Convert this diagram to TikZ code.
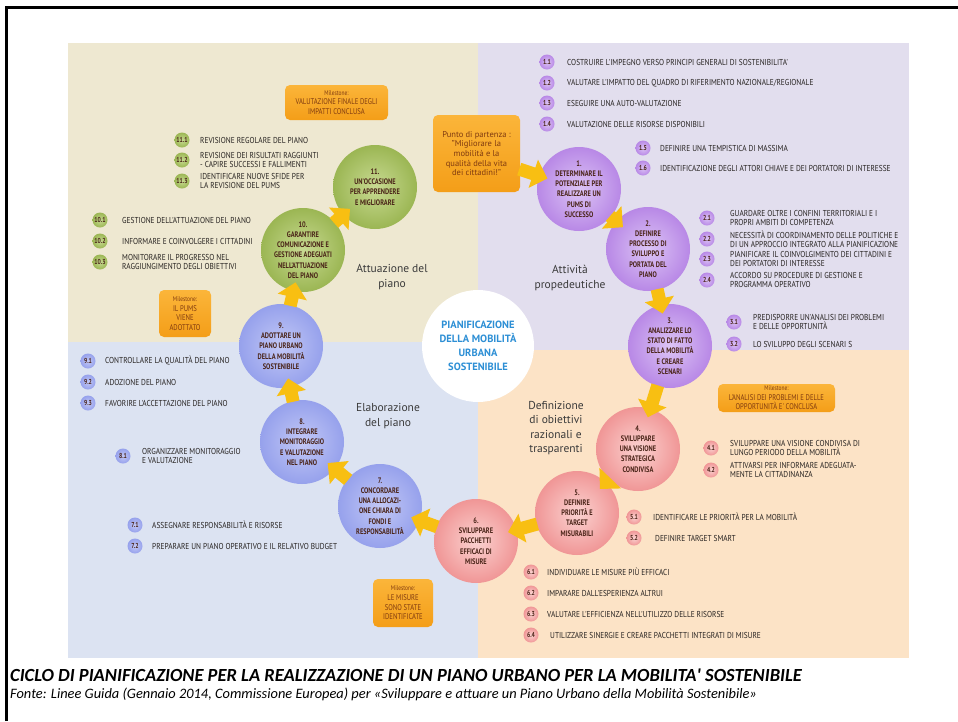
\documentclass[tikz,border=0pt]{standalone}
\usepackage{fontspec}
\setmainfont{PT Sans}
\newfontfamily\condfont[FakeStretch=0.8]{PT Sans}
\newfontfamily\lblfont[FakeStretch=0.855]{PT Sans}
\newfontfamily\captfont{Carlito}
\newcommand\mstitlefont{\condfont\fontsize{6.8}{8}\selectfont}
\usetikzlibrary{arrows.meta}

% quadrant backgrounds
\definecolor{bgbeige}{HTML}{EEE8D1}
\definecolor{bglav}{HTML}{E2DEEE}
\definecolor{bgblue}{HTML}{DCE3F2}
\definecolor{bgpeach}{HTML}{FCE3C6}
% step circles
\definecolor{purpleIn}{HTML}{DCC4F5}
\definecolor{purpleOut}{HTML}{B888E6}
\definecolor{pinkIn}{HTML}{FBD2D0}
\definecolor{pinkOut}{HTML}{F09696}
\definecolor{blueIn}{HTML}{C2C8F6}
\definecolor{blueOut}{HTML}{96A1EC}
\definecolor{greenIn}{HTML}{C8DA92}
\definecolor{greenOut}{HTML}{9BB653}
\definecolor{steptext}{HTML}{4A2418}
% arrows, milestones, texts
\definecolor{arrowyel}{HTML}{F8BF12}
\definecolor{mileTop}{HTML}{FBB53A}
\definecolor{mileBot}{HTML}{F49E18}
\definecolor{miletext}{HTML}{7F3A10}
\definecolor{lbltext}{HTML}{262220}
\definecolor{phasetext}{HTML}{3A3A3A}
\definecolor{centreblue}{HTML}{2D8FD5}

\begin{document}
\begin{tikzpicture}[x=1pt,y=-1pt,
  stepnode/.style={circle, inner sep=0pt, minimum size=84pt, align=center, text=steptext,
    font=\condfont\bfseries\fontsize{8}{10.2}\selectfont},
  purplestep/.style={stepnode, inner color=purpleIn, outer color=purpleOut},
  pinkstep/.style={stepnode, inner color=pinkIn, outer color=pinkOut},
  bluestep/.style={stepnode, inner color=blueIn, outer color=blueOut},
  greenstep/.style={stepnode, inner color=greenIn, outer color=greenOut},
  bub/.style={circle, inner sep=0pt, minimum size=15pt, text=steptext,
    font=\condfont\bfseries\fontsize{7.2}{7.2}\selectfont},
  purplebub/.style={bub, inner color=purpleIn, outer color=purpleOut},
  pinkbub/.style={bub, inner color=pinkIn, outer color=pinkOut},
  bluebub/.style={bub, inner color=blueIn, outer color=blueOut},
  greenbub/.style={bub, inner color=greenIn, outer color=greenOut},
  lbl/.style={anchor=west, align=left, inner sep=0pt, text=lbltext,
    font=\lblfont\fontsize{8.6}{9.3}\selectfont},
  milebox/.style={rectangle, rounded corners=5pt, top color=mileTop, bottom color=mileBot,
    align=center, text=miletext, inner sep=0pt, font=\condfont\fontsize{8.3}{9.6}\selectfont},
  phase/.style={align=center, text=phasetext, font=\fontsize{11.5}{14.5}\selectfont},
  yarrow/.style={draw=arrowyel, line width=13pt, -{Triangle[length=15pt,width=29pt]},
    shorten >=-9pt, shorten <=-1pt}
]
\useasboundingbox (0,0) rectangle (958,721);
\fill[white] (0,0) rectangle (958,721);

% slide frame
\draw[line width=3pt] (6.5,721) -- (6.5,7.5) -- (958,7.5);

% four phase areas
\fill[bgbeige] (68,43) rectangle (478,342);
\fill[bglav] (478,43) rectangle (909,350);
\fill[bgblue] (68,342) rectangle (478,658);
\fill[bgpeach] (478,350) rectangle (909,658);

% centre
\node[circle, fill=white, minimum size=112pt, inner sep=0pt, align=center, text=centreblue,
  font=\bfseries\fontsize{10.5}{14}\selectfont] (centre) at (478,346)
  {PIANIFICAZIONE\\DELLA MOBILITÀ\\URBANA\\SOSTENIBILE};

% phase titles
\node[phase] (ph1) at (570,278) {Attività\\propedeutiche};
\node[phase] (ph2) at (556,428) {Definizione\\di obiettivi\\razionali e\\trasparenti};
\node[phase] (ph3) at (388,416) {Elaborazione\\del piano};
\node[phase] (ph4) at (392,277) {Attuazione del\\piano};

% the eleven steps
\node[purplestep] (c1) at (579,189) {1.\\DETERMINARE IL\\POTENZIALE PER\\REALIZZARE UN\\PUMS DI\\SUCCESSO};
\node[purplestep] (c2) at (648,249) {2.\\DEFINIRE\\PROCESSO DI\\SVILUPPO E\\PORTATA DEL\\PIANO};
\node[purplestep] (c3) at (670,346) {3.\\ANALIZZARE LO\\STATO DI FATTO\\DELLA MOBILITÀ\\E CREARE\\SCENARI};
\node[pinkstep] (c4) at (638,449) {4.\\SVILUPPARE\\UNA VISIONE\\STRATEGICA\\CONDIVISA};
\node[pinkstep] (c5) at (577,513) {5.\\DEFINIRE\\PRIORITÀ E\\TARGET\\MISURABILI};
\node[pinkstep] (c6) at (476,541) {6.\\SVILUPPARE\\PACCHETTI\\EFFICACI DI\\MISURE};
\node[bluestep] (c7) at (380,506) {7.\\CONCORDARE\\UNA ALLOCAZI-\\ONE CHIARA DI\\FONDI E\\RESPONSABILITÀ};
\node[bluestep] (c8) at (302,442) {8.\\INTEGRARE\\MONITORAGGIO\\E VALUTAZIONE\\NEL PIANO};
\node[bluestep] (c9) at (281,346) {9.\\ADOTTARE UN\\PIANO URBANO\\DELLA MOBILITÀ\\SOSTENIBILE};
\node[greenstep] (c10) at (303,250) {10.\\GARANTIRE\\COMUNICAZIONE E\\GESTIONE ADEGUATI\\NELL'ATTUAZIONE\\DEL PIANO};
\node[greenstep] (c11) at (375,187) {11.\\UN'OCCASIONE\\PER APPRENDERE\\E MIGLIORARE};

% starting point and milestones
\node[milebox, minimum width=87pt, minimum height=77pt, font=\fontsize{8.5}{9.7}\selectfont] (start) at (476.5,153.5)
  {Punto di partenza :\\"Migliorare la\\mobilità e la\\qualità della vita\\dei cittadini!"};
\node[milebox, minimum width=103pt, minimum height=35pt] (ms1) at (336.5,102.5)
  {{\mstitlefont Milestone:}\\VALUTAZIONE FINALE DEGLI\\IMPATTI CONCLUSA};
\node[milebox, minimum width=52pt, minimum height=47pt] (ms2) at (185,313.5)
  {{\mstitlefont Milestone:}\\IL PUMS\\VIENE\\ADOTTATO};
\node[milebox, minimum width=117pt, minimum height=28pt] (ms3) at (776.5,398)
  {{\mstitlefont Milestone:}\\L'ANALISI DEI PROBLEMI E DELLE\\OPPORTUNITÀ E' CONCLUSA};
\node[milebox, minimum width=60pt, minimum height=48pt] (ms4) at (403,603)
  {{\mstitlefont Milestone:}\\LE MISURE\\SONO STATE\\IDENTIFICATE};

% cycle arrows
\draw[yarrow] (start.-20) -- (c1);
\draw[yarrow] (c1) -- (c2);
\draw[yarrow] (c2) -- (c3);
\draw[yarrow] (c3) -- (c4);
\draw[yarrow] (c4) -- (c5);
\draw[yarrow] (c5) -- (c6);
\draw[yarrow] (c6) -- (c7);
\draw[yarrow] (c7) -- (c8);
\draw[yarrow] (c8) -- (c9);
\draw[yarrow] (c9) -- (c10);
\draw[yarrow] (c10) -- (c11);

% activities of step 1
\node[purplebub] (b11) at (547,62) {1.1};
\node[lbl] (t11) at (567,62) {COSTRUIRE L'IMPEGNO VERSO PRINCIPI GENERALI DI SOSTENIBILITA'};
\node[purplebub] (b12) at (547,83) {1.2};
\node[lbl] (t12) at (567,83) {VALUTARE L'IMPATTO DEL QUADRO DI RIFERIMENTO NAZIONALE/REGIONALE};
\node[purplebub] (b13) at (547,103) {1.3};
\node[lbl] (t13) at (567,103) {ESEGUIRE UNA AUTO-VALUTAZIONE};
\node[purplebub] (b14) at (547,124) {1.4};
\node[lbl] (t14) at (567,124) {VALUTAZIONE DELLE RISORSE DISPONIBILI};
\node[purplebub] (b15) at (643,148) {1.5};
\node[lbl] (t15) at (660,148) {DEFINIRE UNA TEMPISTICA DI MASSIMA};
\node[purplebub] (b16) at (643,168) {1.6};
\node[lbl] (t16) at (660,168) {IDENTIFICAZIONE DEGLI ATTORI CHIAVE E DEI PORTATORI DI INTERESSE};

% activities of step 2
\node[purplebub] (b21) at (707,218) {2.1};
\node[lbl] (t21) at (730,218) {GUARDARE OLTRE I CONFINI TERRITORIALI E I\\PROPRI AMBITI DI COMPETENZA};
\node[purplebub] (b22) at (707,239) {2.2};
\node[lbl] (t22) at (730,239) {NECESSITÀ DI COORDINAMENTO DELLE POLITICHE E\\DI UN APPROCCIO INTEGRATO ALLA PIANIFICAZIONE};
\node[purplebub] (b23) at (707,259) {2.3};
\node[lbl] (t23) at (730,259) {PIANIFICARE IL COINVOLGIMENTO DEI CITTADINI E\\DEI PORTATORI DI INTERESSE};
\node[purplebub] (b24) at (707,280) {2.4};
\node[lbl] (t24) at (730,280) {ACCORDO SU PROCEDURE DI GESTIONE E\\PROGRAMMA OPERATIVO};

% activities of step 3
\node[purplebub] (b31) at (734,322) {3.1};
\node[lbl] (t31) at (753,322) {PREDISPORRE UN'ANALISI DEI PROBLEMI\\E DELLE OPPORTUNITÀ};
\node[purplebub] (b32) at (734,344) {3.2};
\node[lbl] (t32) at (753,344) {LO SVILUPPO DEGLI SCENARI S};

% activities of step 4
\node[pinkbub] (b41) at (711,448) {4.1};
\node[lbl] (t41) at (730,448) {SVILUPPARE UNA VISIONE CONDIVISA DI\\LUNGO PERIODO DELLA MOBILITÀ};
\node[pinkbub] (b42) at (711,470) {4.2};
\node[lbl] (t42) at (730,470) {ATTIVARSI PER INFORMARE ADEGUATA-\\MENTE LA CITTADINANZA};

% activities of step 5
\node[pinkbub] (b51) at (634,517) {5.1};
\node[lbl] (t51) at (653,517) {IDENTIFICARE LE PRIORITÀ PER LA MOBILITÀ};
\node[pinkbub] (b52) at (634,538) {5.2};
\node[lbl] (t52) at (655,538) {DEFINIRE TARGET SMART};

% activities of step 6
\node[pinkbub] (b61) at (531,572) {6.1};
\node[lbl] (t61) at (547,572) {INDIVIDUARE LE MISURE PIÙ EFFICACI};
\node[pinkbub] (b62) at (531,593) {6.2};
\node[lbl] (t62) at (547,593) {IMPARARE DALL'ESPERIENZA ALTRUI};
\node[pinkbub] (b63) at (531,614) {6.3};
\node[lbl] (t63) at (547,614) {VALUTARE L'EFFICIENZA NELL'UTILIZZO DELLE RISORSE};
\node[pinkbub] (b64) at (531,635) {6.4};
\node[lbl] (t64) at (550,635) {UTILIZZARE SINERGIE E CREARE PACCHETTI INTEGRATI DI MISURE};

% activities of step 7
\node[bluebub] (b71) at (135,525) {7.1};
\node[lbl] (t71) at (152,525) {ASSEGNARE RESPONSABILITÀ E RISORSE};
\node[bluebub] (b72) at (135,546) {7.2};
\node[lbl] (t72) at (152,546) {PREPARARE UN PIANO OPERATIVO E IL RELATIVO BUDGET};

% activities of step 8
\node[bluebub] (b81) at (123,456) {8.1};
\node[lbl] (t81) at (142,456) {ORGANIZZARE MONITORAGGIO\\E VALUTAZIONE};

% activities of step 9
\node[bluebub] (b91) at (88,361) {9.1};
\node[lbl] (t91) at (105,361) {CONTROLLARE LA QUALITÀ DEL PIANO};
\node[bluebub] (b92) at (88,382) {9.2};
\node[lbl] (t92) at (105,382) {ADOZIONE DEL PIANO};
\node[bluebub] (b93) at (88,403) {9.3};
\node[lbl] (t93) at (105,403) {FAVORIRE L'ACCETTAZIONE DEL PIANO};

% activities of step 10
\node[greenbub] (b101) at (100,220) {10.1};
\node[lbl] (t101) at (122,220) {GESTIONE DELL'ATTUAZIONE DEL PIANO};
\node[greenbub] (b102) at (100,241) {10.2};
\node[lbl] (t102) at (122,241) {INFORMARE E COINVOLGERE I CITTADINI};
\node[greenbub] (b103) at (100,262) {10.3};
\node[lbl] (t103) at (122,262) {MONITORARE IL PROGRESSO NEL\\RAGGIUNGIMENTO DEGLI OBIETTIVI};

% activities of step 11
\node[greenbub] (b111) at (182,140) {11.1};
\node[lbl] (t111) at (200,140) {REVISIONE REGOLARE DEL PIANO};
\node[greenbub] (b112) at (182,160) {11.2};
\node[lbl] (t112) at (200,160) {REVISIONE DEI RISULTATI RAGGIUNTI\\- CAPIRE SUCCESSI E FALLIMENTI};
\node[greenbub] (b113) at (182,181) {11.3};
\node[lbl] (t113) at (200,181) {IDENTIFICARE NUOVE SFIDE PER\\LA REVISIONE DEL PUMS};

% caption
\node[anchor=base west, inner sep=0pt, font=\captfont\bfseries\itshape\fontsize{18.5}{20}\selectfont] (cap1) at (10,681)
  {CICLO DI PIANIFICAZIONE PER LA REALIZZAZIONE DI UN PIANO URBANO PER LA MOBILITA' SOSTENIBILE};
\node[anchor=base west, inner sep=0pt, font=\captfont\itshape\fontsize{14.4}{16}\selectfont] (cap2) at (10,698)
  {Fonte: Linee Guida (Gennaio 2014, Commissione Europea) per «Sviluppare e attuare un Piano Urbano della Mobilità Sostenibile»};
\end{tikzpicture}
\end{document}
